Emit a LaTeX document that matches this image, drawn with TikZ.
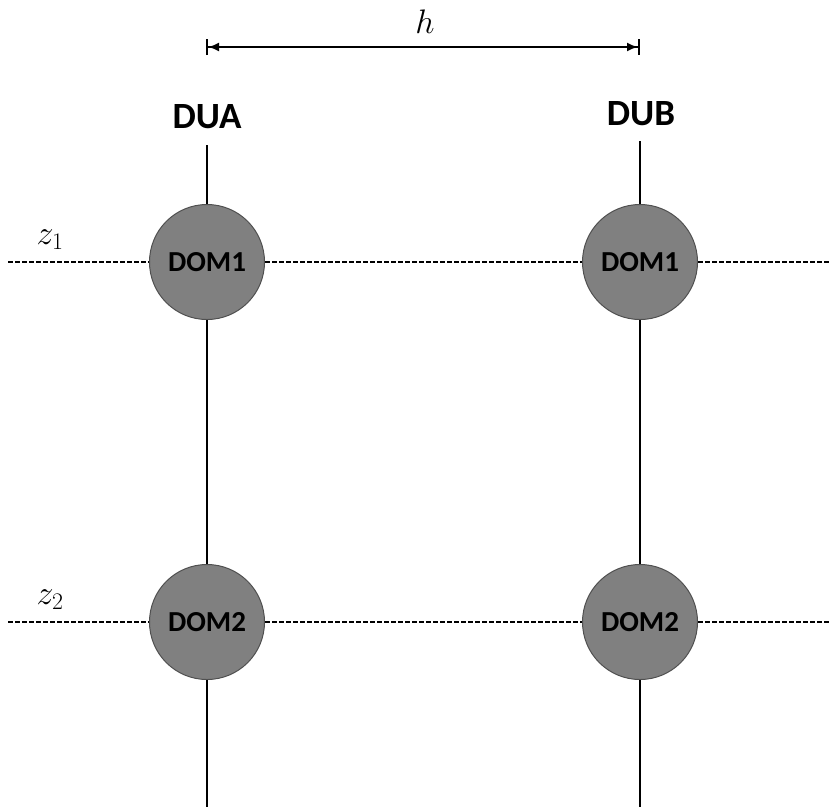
\documentclass[tikz,border=0pt]{standalone}
\usepackage{fix-cm}
\usepackage{fontspec}
\setsansfont{Carlito}
\usetikzlibrary{arrows.meta}
\definecolor{domfill}{RGB}{128,128,128}
\definecolor{domedge}{RGB}{80,80,80}
\tikzset{
  dom/.style={circle, fill=domfill, draw=domedge, line width=1pt,
    minimum size=115pt, inner sep=0pt,
    font=\sffamily\bfseries\fontsize{29}{29}\selectfont},
  string/.style={line width=2.8pt, black},
  depth/.style={dashed, dash pattern=on 4.5pt off 2.5pt, line width=1.4pt},
  unitlabel/.style={font=\sffamily\bfseries\fontsize{37}{37}\selectfont},
  mathlabel/.style={font=\fontsize{34}{34}\selectfont},
  spacing/.style={line width=2.2pt,
    {Bar[width=16pt,line width=2pt]Latex[length=11pt,width=9pt]}-{Latex[length=11pt,width=9pt]Bar[width=16pt,line width=2pt]}}
}
\begin{document}
\begin{tikzpicture}[x=1pt,y=-1pt]
\useasboundingbox (0,0) rectangle (830,807);
% string end points
\coordinate (topA) at (207,145);
\coordinate (botA) at (207,807);
\coordinate (topB) at (640,141);
\coordinate (botB) at (640,807);
% depth line ends
\coordinate (z1L) at (8,262);
\coordinate (z1R) at (830,262);
\coordinate (z2L) at (8,622);
\coordinate (z2R) at (830,622);
% spacing marker ends
\coordinate (hA) at (206,47);
\coordinate (hB) at (640,47);

% optical modules
\node[dom] (a1) at (207,262) {DOM1};
\node[dom] (a2) at (207,622) {DOM2};
\node[dom] (b1) at (640,262) {DOM1};
\node[dom] (b2) at (640,622) {DOM2};

% strings
\draw[string] (topA) -- (a1.north);
\draw[string] (a1.south) -- (a2.north);
\draw[string] (a2.south) -- (botA);
\draw[string] (topB) -- (b1.north);
\draw[string] (b1.south) -- (b2.north);
\draw[string] (b2.south) -- (botB);

% depth levels
\draw[depth] (z1L) -- (a1.west);
\draw[depth] (a1.east) -- (b1.west);
\draw[depth] (b1.east) -- (z1R);
\draw[depth] (z2L) -- (a2.west);
\draw[depth] (a2.east) -- (b2.west);
\draw[depth] (b2.east) -- (z2R);

% labels
\node[unitlabel] (dua) at (207,117) {DUA};
\node[unitlabel] (dub) at (641,114) {DUB};
\node[mathlabel] (z1) at (50,240) {$z_1$};
\node[mathlabel] (z2) at (50,600) {$z_2$};

% horizontal spacing
\draw[spacing] (hA) -- (hB);
\node[mathlabel] (h) at (425,22) {$h$};
\end{tikzpicture}
\end{document}
